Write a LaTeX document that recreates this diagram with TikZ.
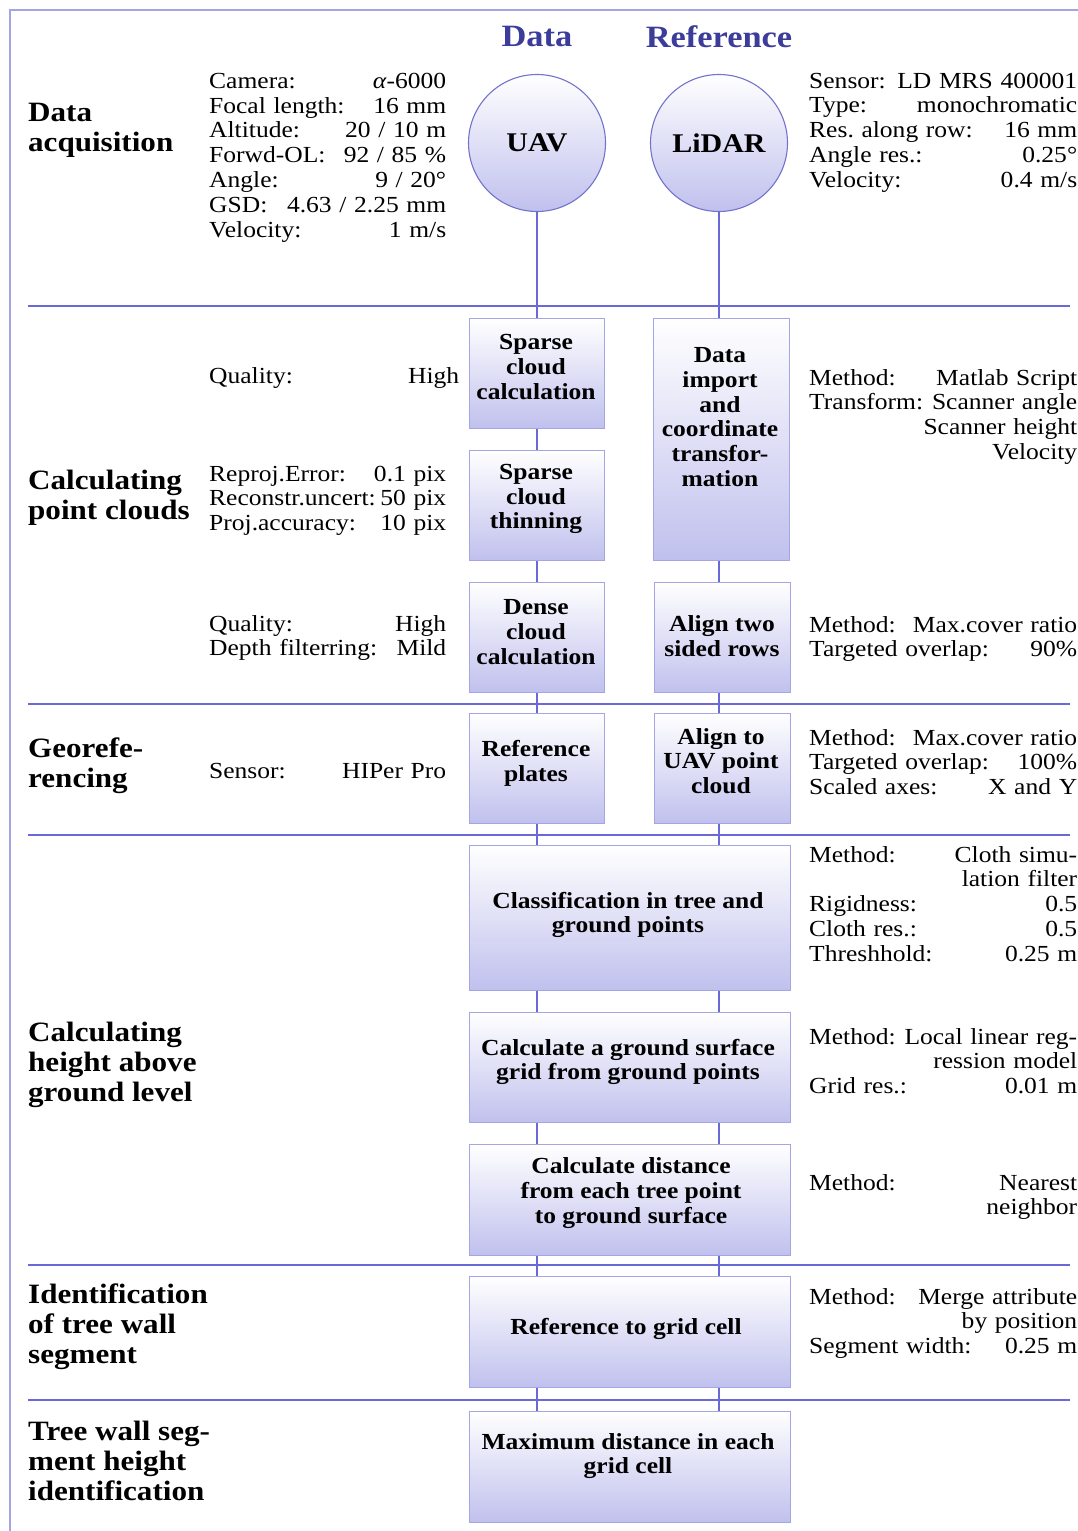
\documentclass[tikz,border=0pt]{standalone}
\usepackage{fontspec}
\setmainfont{Liberation Serif}[FakeStretch=1.11]
\frenchspacing
\usetikzlibrary{calc}
\definecolor{linec}{RGB}{105,105,215}
\definecolor{boxb}{RGB}{165,165,230}
\definecolor{boxf}{RGB}{192,192,238}
\definecolor{headc}{RGB}{60,60,155}
\definecolor{framec}{RGB}{165,165,230}
\definecolor{circb}{RGB}{115,115,205}
\tikzset{
  procbox/.style={draw=boxb, line width=1.2pt, top color=white, bottom color=boxf, inner sep=0, anchor=north west},
  circnode/.style={circle, draw=circb, line width=1.1pt, top color=white, bottom color=boxf, minimum size=137pt, inner sep=0, font=\fontsize{27}{30}\selectfont\bfseries},
  boxtext/.style={align=center, inner sep=0, font=\fontsize{23}{24.7}\selectfont\bfseries},
  kvtext/.style={anchor=north west, inner sep=0, align=left, font=\fontsize{23}{24.8}\selectfont},
  sectlabel/.style={anchor=north west, inner sep=0, align=left, font=\fontsize{28}{30}\selectfont\bfseries},
  headtext/.style={inner sep=0, text=headc, font=\fontsize{31}{36}\selectfont\bfseries},
  conn/.style={draw=linec, line width=1.4pt},
  sepline/.style={draw=linec, line width=1.3pt},
}
\begin{document}
\begin{tikzpicture}[x=1pt,y=-1pt]
\useasboundingbox (0,0) rectangle (1078,1531);
% frame
\draw[draw=framec, line width=1.6pt] (10,1545) -- (10,10) -- (1095,10);
% separators
\foreach \yy in {306,704,835,1265,1400} \draw[sepline] (28,\yy) -- (1070,\yy);
% headings
\node[headtext] (hdata) at (537,37) {Data};
\node[headtext] (href) at (719,37) {Reference};
% circles
\node[circnode] (uav) at (537,143) {UAV};
\node[circnode] (lidar) at (719,143) {LiDAR};
% boxes
\node[procbox, minimum width=135pt, minimum height=110pt] (s1) at (469,318) {};
\node[procbox, minimum width=135pt, minimum height=110pt] (s2) at (469,450) {};
\node[procbox, minimum width=135pt, minimum height=110pt] (s3) at (469,582) {};
\node[procbox, minimum width=135pt, minimum height=110pt] (s4) at (469,713) {};
\node[procbox, minimum width=136pt, minimum height=242pt] (d1) at (653,318) {};
\node[procbox, minimum width=136pt, minimum height=110pt] (d2) at (654,582) {};
\node[procbox, minimum width=136pt, minimum height=110pt] (d3) at (654,713) {};
\node[procbox, minimum width=321pt, minimum height=145pt] (w1) at (469,845) {};
\node[procbox, minimum width=321pt, minimum height=110pt] (w2) at (469,1012) {};
\node[procbox, minimum width=321pt, minimum height=111pt] (w3) at (469,1144) {};
\node[procbox, minimum width=321pt, minimum height=111pt] (w4) at (469,1276) {};
\node[procbox, minimum width=321pt, minimum height=111pt] (w5) at (469,1411) {};
% box texts
\node[boxtext] (ts1) at (536,367) {Sparse\\cloud\\calculation};
\node[boxtext] (ts2) at (536,499) {Sparse\\cloud\\thinning};
\node[boxtext] (ts3) at (536,632) {Dense\\cloud\\calculation};
\node[boxtext] (ts4) at (536,763) {Reference\\plates};
\node[boxtext] (td1) at (720,417) {Data\\import\\and\\coordinate\\transfor-\\mation};
\node[boxtext] (td2) at (722,636) {Align two\\sided rows};
\node[boxtext] (td3) at (721,761) {Align to\\UAV point\\cloud};
\node[boxtext] (tw1) at (628,915) {Classification in tree and\\ground points};
\node[boxtext] (tw2) at (628,1062) {Calculate a ground surface\\grid from ground points};
\node[boxtext] (tw3) at (631,1193) {Calculate distance\\from each tree point\\to ground surface};
\node[boxtext] (tw4) at (626,1329) {Reference to grid cell};
\node[boxtext] (tw5) at (628,1456) {Maximum distance in each\\grid cell};
% connectors
\draw[conn] (uav.south) -- (s1.north -| uav);
\draw[conn] (lidar.south) -- (d1.north -| lidar);
\draw[conn] (s1.south -| uav) -- (s2.north -| uav);
\draw[conn] (s2.south -| uav) -- (s3.north -| uav);
\draw[conn] (s3.south -| uav) -- (s4.north -| uav);
\draw[conn] (s4.south -| uav) -- (w1.north -| uav);
\draw[conn] (d1.south -| lidar) -- (d2.north -| lidar);
\draw[conn] (d2.south -| lidar) -- (d3.north -| lidar);
\draw[conn] (d3.south -| lidar) -- (w1.north -| lidar);
\draw[conn] (w1.south -| uav) -- (w2.north -| uav);
\draw[conn] (w1.south -| lidar) -- (w2.north -| lidar);
\draw[conn] (w2.south -| uav) -- (w3.north -| uav);
\draw[conn] (w2.south -| lidar) -- (w3.north -| lidar);
\draw[conn] (w3.south -| uav) -- (w4.north -| uav);
\draw[conn] (w3.south -| lidar) -- (w4.north -| lidar);
\draw[conn] (w4.south -| uav) -- (w5.north -| uav);
\draw[conn] (w4.south -| lidar) -- (w5.north -| lidar);
% section labels (first baseline - 21)
\node[sectlabel] (l1) at (28,100.7) {\strut Data\\acquisition};
\node[sectlabel] (l2) at (28,468) {\strut Calculating\\point clouds};
\node[sectlabel] (l3) at (28,736) {\strut Georefe-\\rencing};
\node[sectlabel] (l4) at (28,1020) {\strut Calculating\\height above\\ground level};
\node[sectlabel] (l5) at (28,1282) {\strut Identification\\of tree wall\\segment};
\node[sectlabel] (l6) at (28,1419) {\strut Tree wall seg-\\ment height\\identification};
% left parameter blocks (first baseline - 17.4)
\node[kvtext, text width=237pt] (k1) at (209,70.8) {\strut Camera:\hfill \textit{α}-6000\\Focal length:\hfill 16 mm\\Altitude:\hfill 20 / 10 m\\Forwd-OL:\hfill 92 / 85 \%\\Angle:\hfill 9 / 20°\\GSD:\hfill 4.63 / 2.25 mm\\Velocity:\hfill 1 m/s};
\node[kvtext, text width=250pt] (k2) at (209,365.6) {\strut Quality:\hfill High};
\node[kvtext, text width=237pt] (k3) at (209,463.6) {\strut Reproj.Error:\hfill 0.1 pix\\Reconstr.uncert:\hfill 50 pix\\Proj.accuracy:\hfill 10 pix};
\node[kvtext, text width=237pt] (k4) at (209,613.6) {\strut Quality:\hfill High\\Depth filterring:\hfill Mild};
\node[kvtext, text width=237pt] (k5) at (209,760.6) {\strut Sensor:\hfill HIPer Pro};
% right parameter blocks
\node[kvtext, text width=268pt] (r1) at (809,70.6) {\strut Sensor:\hfill LD MRS 400001\\Type:\hfill monochromatic\\Res. along row:\hfill 16 mm\\Angle res.:\hfill 0.25°\\Velocity:\hfill 0.4 m/s};
\node[kvtext, text width=268pt] (r2) at (809,367.6) {\strut Method:\hfill Matlab Script\\Transform:\hfill Scanner angle\\\mbox{}\hfill Scanner height\\\mbox{}\hfill Velocity};
\node[kvtext, text width=268pt] (r3) at (809,614.6) {\strut Method:\hfill Max.cover ratio\\Targeted overlap:\hfill 90\%};
\node[kvtext, text width=268pt] (r4) at (809,727.6) {\strut Method:\hfill Max.cover ratio\\Targeted overlap:\hfill 100\%\\Scaled axes:\hfill X and Y};
\node[kvtext, text width=268pt] (r5) at (809,844.6) {\strut Method:\hfill Cloth simu-\\\mbox{}\hfill lation filter\\Rigidness:\hfill 0.5\\Cloth res.:\hfill 0.5\\Threshhold:\hfill 0.25 m};
\node[kvtext, text width=268pt] (r6) at (809,1026.6) {\strut Method:\hfill Local linear reg-\\\mbox{}\hfill ression model\\Grid res.:\hfill 0.01 m};
\node[kvtext, text width=268pt] (r7) at (809,1172.6) {\strut Method:\hfill Nearest\\\mbox{}\hfill neighbor};
\node[kvtext, text width=268pt] (r8) at (809,1286.6) {\strut Method:\hfill Merge attribute\\\mbox{}\hfill by position\\Segment width:\hfill 0.25 m};
\end{tikzpicture}
\end{document}
